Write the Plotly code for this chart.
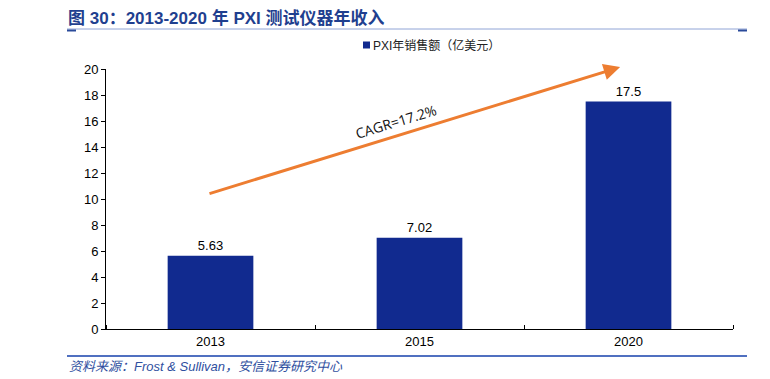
import plotly.graph_objects as go

years = ["2013", "2015", "2020"]
sales = [5.63, 7.02, 17.5]
sales_labels = ["5.63", "7.02", "17.5"]
y_ticks = [0, 2, 4, 6, 8, 10, 12, 14, 16, 18, 20]
series_name = "PXI年销售额（亿美元）"
title_text = "图 30：2013-2020 年 PXI 测试仪器年收入"
source_text = "资料来源：Frost & Sullivan，安信证券研究中心"
cagr_text = "CAGR=17.2%"

xpos = list(range(len(years)))
BAR = "#112A8F"
FONT = "Liberation Sans, Arial, Noto Sans CJK SC, sans-serif"
CJK = "Liberation Sans, Noto Sans CJK SC, sans-serif"

# page offset (browser body margin)
OFF = 8
W, H = 754, 371
L, R, T, B = 98, 29, 61, 50


def px(xp):
    return (xp - OFF - L) / (W - L - R)


def py(yp):
    return (H - B - (yp - OFF)) / (H - T - B)


fig = go.Figure()
fig.add_trace(go.Bar(
    x=xpos, y=sales, name=series_name, marker=dict(color=BAR, line=dict(width=0)),
    width=0.41, text=sales_labels, textposition="outside", cliponaxis=False,
    textfont=dict(family=FONT, size=13, color="#000000"), showlegend=False,
))

fig.update_layout(
    width=W, height=H,
    margin=dict(l=L, r=R, t=T, b=B),
    plot_bgcolor="white", paper_bgcolor="white",
    xaxis=dict(range=[-0.5, 2.5], tickvals=xpos, ticktext=years, showgrid=False,
               showline=True, linecolor="#000000", linewidth=1, ticks="",
               tickfont=dict(family=FONT, size=13, color="#000000"),
               minor=dict(tickvals=[-0.5, 0.5, 1.5, 2.5], ticks="inside", ticklen=4,
                          tickcolor="#000000", showgrid=False),
               zeroline=False, fixedrange=True),
    yaxis=dict(range=[0, 20], tickvals=y_ticks, showgrid=False, showline=True,
               linecolor="#000000", linewidth=1, ticks="outside", ticklen=4,
               tickcolor="#000000", tickfont=dict(family=FONT, size=13, color="#000000"),
               zeroline=False),
)

# CAGR arrow
fig.add_annotation(x=1.96, y=20.15, ax=-0.012, ay=10.38, xref="x", yref="y",
                   axref="x", ayref="y", showarrow=True, arrowhead=2, arrowsize=1.1,
                   arrowwidth=3, arrowcolor="#ED7D31", text="")
fig.add_annotation(x=0.887, y=16.0, xref="x", yref="y", text=cagr_text, showarrow=False,
                   textangle=-17, font=dict(family="Open Sans, Liberation Sans, sans-serif",
                                            size=14, color="#111111"))

# Title
fig.add_annotation(x=px(66), y=py(18), xref="paper", yref="paper",
                   text="<b>" + title_text + "</b>",
                   showarrow=False, xanchor="left", yanchor="middle",
                   font=dict(family=CJK, size=17, color="#1F3F8F"))
# Source
fig.add_annotation(x=px(67), y=py(366), xref="paper", yref="paper",
                   text="<i>" + source_text + "</i>",
                   showarrow=False, xanchor="left", yanchor="middle",
                   font=dict(family=CJK, size=13, color="#2F4FA0"))
# Legend (manual)
fig.add_annotation(x=px(371), y=py(45), xref="paper", yref="paper", text=series_name,
                   showarrow=False, xanchor="left", yanchor="middle",
                   font=dict(family=CJK, size=12, color="#222222"))

shapes = [
    dict(type="rect", xref="paper", yref="paper", x0=px(363), x1=px(370), y0=py(41.5), y1=py(48.5),
         fillcolor=BAR, line=dict(width=0)),
    dict(type="line", xref="paper", yref="paper", x0=px(67), x1=px(747), y0=py(29), y1=py(29),
         line=dict(color="#90A4D6", width=1)),
    dict(type="line", xref="paper", yref="paper", x0=px(67), x1=px(76), y0=py(30.5), y1=py(30.5),
         line=dict(color="#2A4A9A", width=2)),
    dict(type="line", xref="paper", yref="paper", x0=px(738), x1=px(747), y0=py(30.5), y1=py(30.5),
         line=dict(color="#2A4A9A", width=2)),
    dict(type="line", xref="paper", yref="paper", x0=px(67), x1=px(747), y0=py(356), y1=py(356),
         line=dict(color="#5070C0", width=2)),
]
fig.update_layout(shapes=shapes)

fig.write_html("out.html")
